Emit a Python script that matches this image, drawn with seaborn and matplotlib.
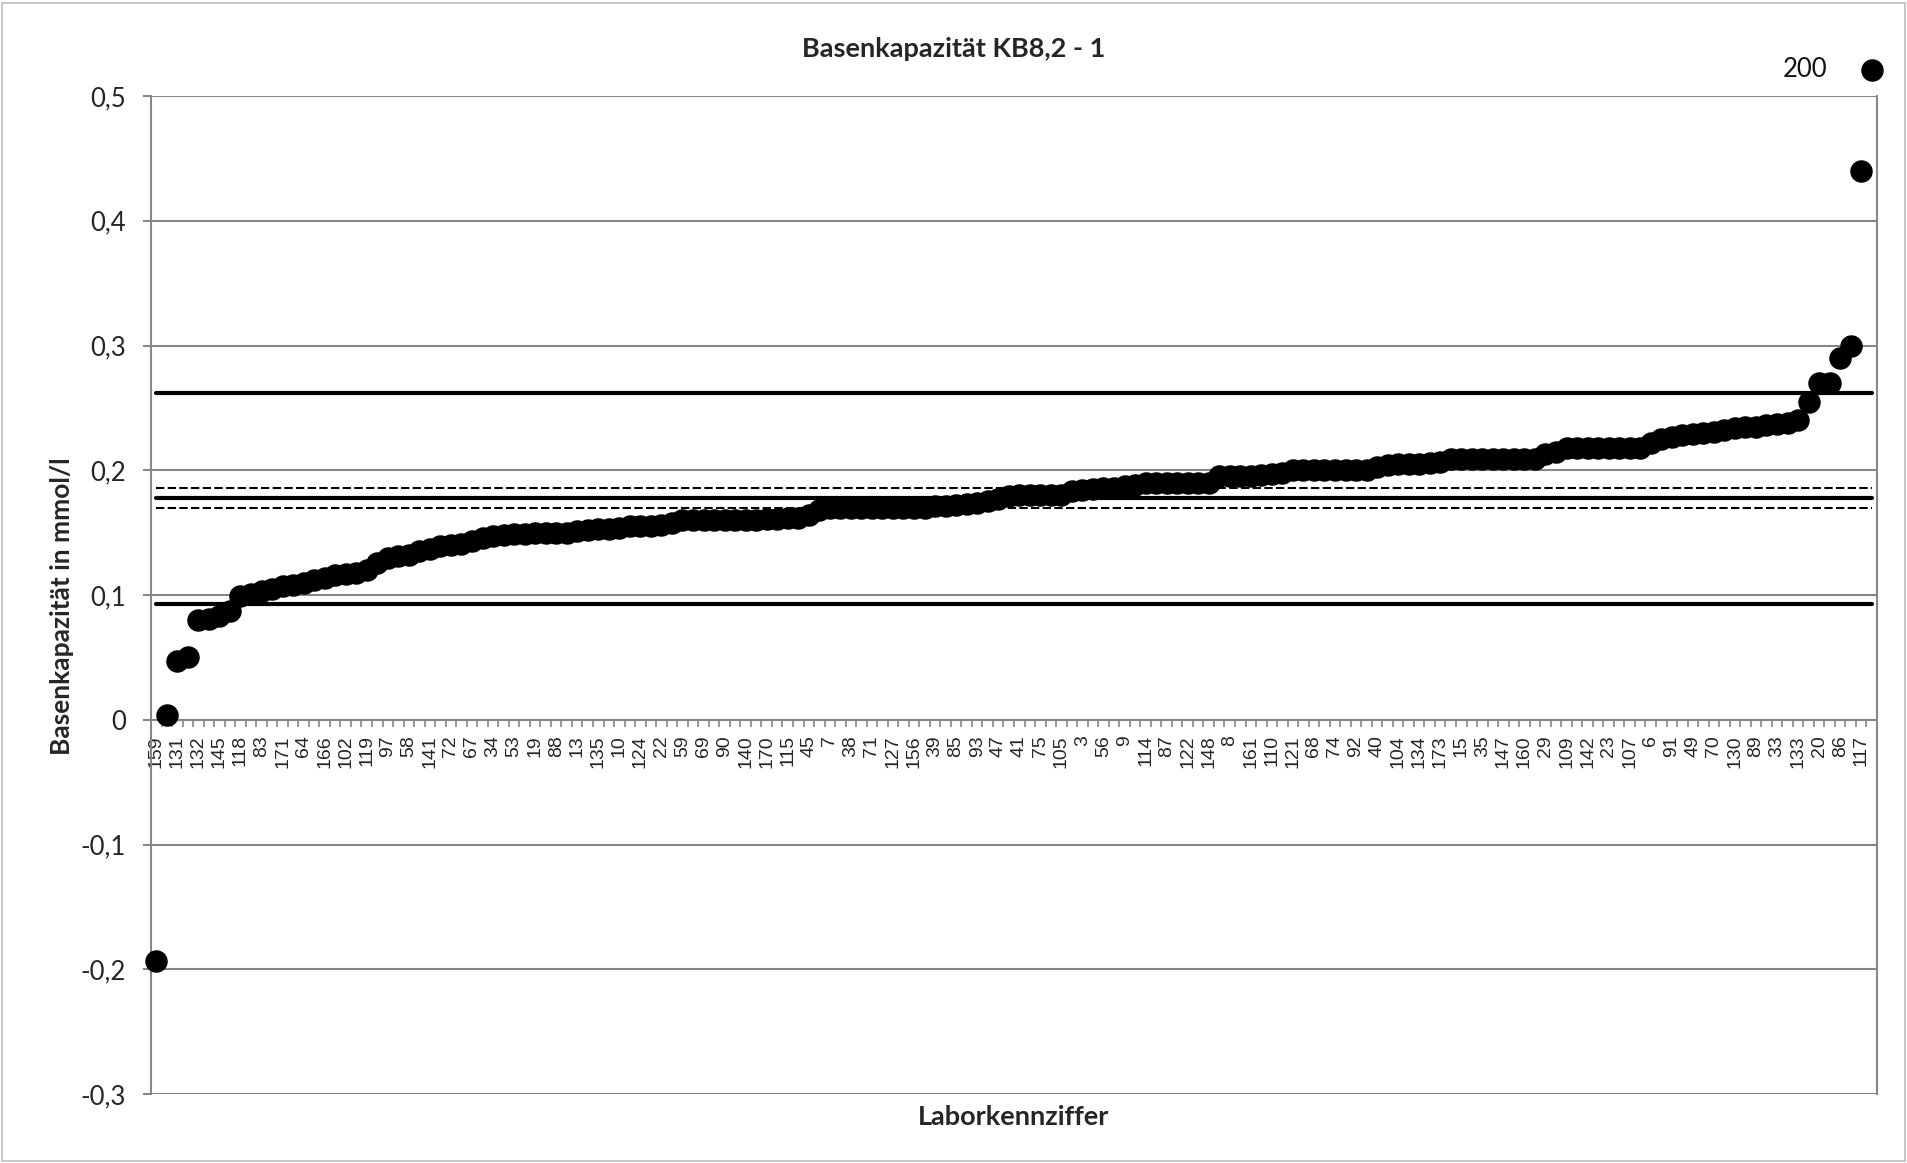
import matplotlib
matplotlib.use("Agg")
import matplotlib.pyplot as plt
from matplotlib.patches import Rectangle
from matplotlib.ticker import FixedLocator, FuncFormatter
import seaborn as sns
import pandas as pd
import numpy as np

# Lab results, sorted ascending (mmol/l)
values = [
    -0.193, 0.004, 0.047, 0.050, 0.080, 0.081, 0.083, 0.087, 0.099, 0.101,
    0.103, 0.105, 0.107, 0.108, 0.110, 0.112, 0.114, 0.116, 0.117, 0.118,
    0.120, 0.126, 0.130, 0.131, 0.132, 0.135, 0.137, 0.139, 0.140, 0.141,
    0.143, 0.146, 0.147, 0.148, 0.149, 0.149, 0.150, 0.150, 0.150, 0.150,
    0.151, 0.152, 0.153, 0.153, 0.154, 0.155, 0.155, 0.155, 0.156, 0.158,
    0.160, 0.160, 0.160, 0.160, 0.160, 0.160, 0.160, 0.160, 0.161, 0.161,
    0.162, 0.162, 0.164, 0.168, 0.170, 0.170, 0.170, 0.170, 0.170, 0.170,
    0.170, 0.170, 0.170, 0.170, 0.171, 0.171, 0.172, 0.173, 0.174, 0.175,
    0.177, 0.179, 0.180, 0.180, 0.180, 0.180, 0.180, 0.183, 0.184, 0.185,
    0.186, 0.186, 0.187, 0.188, 0.190, 0.190, 0.190, 0.190, 0.190, 0.190,
    0.190, 0.195, 0.195, 0.195, 0.195, 0.196, 0.197, 0.198, 0.200, 0.200,
    0.200, 0.200, 0.200, 0.200, 0.200, 0.200, 0.203, 0.204, 0.205, 0.205,
    0.205, 0.206, 0.207, 0.209, 0.209, 0.209, 0.209, 0.209, 0.209, 0.209,
    0.209, 0.209, 0.213, 0.215, 0.218, 0.218, 0.218, 0.218, 0.218, 0.218,
    0.218, 0.218, 0.222, 0.225, 0.227, 0.228, 0.229, 0.230, 0.231, 0.232,
    0.234, 0.235, 0.235, 0.236, 0.237, 0.238, 0.240, 0.255, 0.270, 0.270,
    0.290, 0.300, 0.440, 0.521,
]

# Lab codes shown on the axis (every second position)
labeled_ids = [
    159, 131, 132, 145, 118, 83, 171, 64, 166, 102, 119, 97, 58, 141, 72, 67,
    34, 53, 19, 88, 13, 135, 10, 124, 22, 59, 69, 90, 140, 170, 115, 45, 7,
    38, 71, 127, 156, 39, 85, 93, 47, 41, 75, 105, 3, 56, 9, 114, 87, 122,
    148, 8, 161, 110, 121, 68, 74, 92, 40, 104, 134, 173, 15, 35, 147, 160,
    29, 109, 142, 23, 107, 6, 91, 49, 70, 130, 89, 33, 133, 20, 86, 117,
]
outlier_label = "200"

# Reference levels
mean_value = 0.1776
ci_upper = 0.1857
ci_lower = 0.1696
tol_upper = 0.262
tol_lower = 0.093

y_ticks = [-0.3, -0.2, -0.1, 0.0, 0.1, 0.2, 0.3, 0.4, 0.5]

n = len(values)
df = pd.DataFrame({"pos": np.arange(n), "value": values})

sns.set_theme(style="white")
plt.rcParams["font.family"] = ["Lato", "DejaVu Sans"]

W, H = 1908, 1163
fig = plt.figure(figsize=(W / 100, H / 100), dpi=100)
ax = fig.add_axes([151 / W, 1 - 1094 / H, (1877 - 151) / W, (1094 - 96) / H])

grey = "#878787"

# horizontal grid
for yv in y_ticks:
    ax.axhline(yv, color=grey, lw=1.5, zorder=0)

# reference lines spanning first to last lab
ends = [0, n - 1]
for lvl, style in [(tol_upper, "solid"), (tol_lower, "solid"), (mean_value, "solid"),
                   (ci_upper, "dashed"), (ci_lower, "dashed")]:
    ref = pd.DataFrame({"pos": ends, "value": [lvl, lvl]})
    if style == "solid":
        sns.lineplot(data=ref, x="pos", y="value", ax=ax, color="black", lw=3.0,
                     solid_capstyle="round", zorder=2)
    else:
        line = sns.lineplot(data=ref, x="pos", y="value", ax=ax, color="black",
                            lw=1.5, zorder=2)
        line.lines[-1].set_dashes((4, 1.6))

# lab results
sns.scatterplot(data=df, x="pos", y="value", ax=ax, color="black", s=262,
                linewidth=0, zorder=3, clip_on=False, legend=False)

ax.annotate(outlier_label, xy=(n - 1, values[-1]), xytext=(-32, 0),
            textcoords="offset points", ha="right", va="center",
            fontsize=18.5, family=["Lato", "DejaVu Sans"], color="#111111",
            annotation_clip=False)

ax.set_xlim(-0.5, n - 0.5)
ax.set_ylim(-0.3, 0.5)

# axes: category axis sits at y = 0
ax.spines["top"].set_visible(False)
ax.spines["bottom"].set_position(("data", 0))
for s in ["bottom", "left", "right"]:
    ax.spines[s].set_color(grey)
    ax.spines[s].set_linewidth(1.5)
    ax.spines[s].set_zorder(1)

ax.yaxis.set_major_locator(FixedLocator(y_ticks))
ax.yaxis.set_major_formatter(FuncFormatter(
    lambda v, p: "0" if abs(v) < 1e-9 else f"{v:.1f}".replace(".", ",")))
ax.tick_params(axis="y", which="major", direction="out", length=6, width=1.5,
               color=grey, pad=12, labelsize=18.5, left=True)

label_pos = np.arange(0, n, 2)[: len(labeled_ids)]
ax.set_xticks(label_pos)
ax.set_xticklabels([str(v) for v in labeled_ids], rotation=90,
                   family=["Liberation Sans", "DejaVu Sans"], fontsize=14)
ax.set_xticks(np.arange(-0.5, n, 1.0), minor=True)
ax.tick_params(axis="x", which="major", length=0, pad=11, bottom=True)
ax.tick_params(axis="x", which="minor", direction="out", length=5, width=1.2,
               color=grey, bottom=True)

ax.set_xlabel("")
ax.set_ylabel("")
for lab in ax.get_yticklabels():
    lab.set_family(["Lato", "DejaVu Sans"])

fig.text(0.5, 1 - 49 / H, "Basenkapazität KB8,2 - 1", ha="center", va="center",
         fontsize=19.5, fontweight="bold")
fig.text(62 / W, 1 - 606 / H, "Basenkapazität in mmol/l", ha="center",
         va="center", rotation=90, fontsize=19, fontweight="bold")
fig.text(1014 / W, 1 - 1117 / H, "Laborkennziffer", ha="center", va="center",
         fontsize=19.5, fontweight="bold")

# chart-area frame
fig.patches.append(Rectangle((2 / W, 2 / H), (W - 5) / W, (H - 5) / H,
                             transform=fig.transFigure, fill=False,
                             edgecolor="#bdbdbd", lw=1.2))

fig.savefig("out.png", dpi=100)
